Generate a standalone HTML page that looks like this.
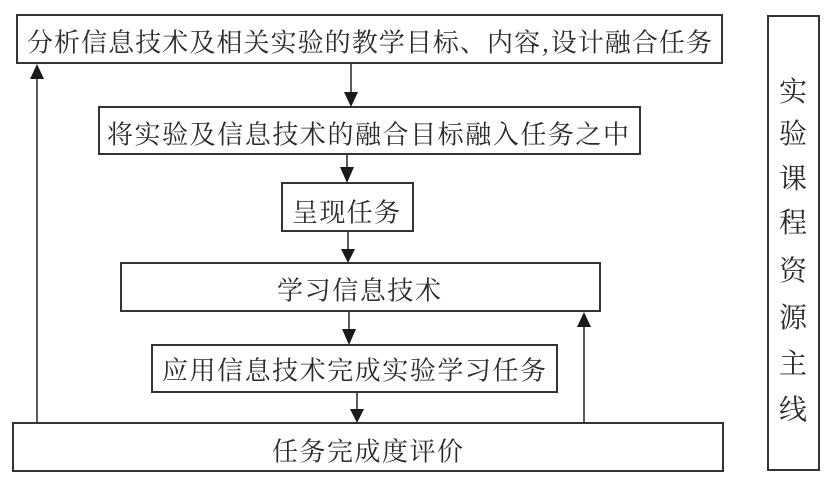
<!DOCTYPE html>
<html>
<head>
<meta charset="utf-8">
<style>
  html,body{margin:0;padding:0;background:#fff;}
  svg{display:block;}
  text{font-family:"Noto Serif CJK SC","Noto Sans CJK SC",serif;fill:#2b2b2b;font-size:26px;font-weight:400;}
  .v{font-size:28px;}
</style>
</head>
<body>
<svg width="829" height="484" viewBox="0 0 829 484" xmlns="http://www.w3.org/2000/svg">
  <rect width="829" height="484" fill="#fff"/>
  <g fill="none" stroke="#333" stroke-width="2">
    <rect x="17" y="15" width="705" height="48"/>
    <rect x="99" y="107" width="541" height="47"/>
    <rect x="282" y="183" width="131" height="48"/>
    <rect x="121" y="263" width="479" height="48"/>
    <rect x="152" y="345" width="405" height="47"/>
    <rect x="13" y="423" width="710" height="48"/>
    <rect x="768" y="16" width="51" height="454"/>
  </g>
  <g stroke="#333" stroke-width="1.6">
    <line x1="351" y1="63" x2="351" y2="95"/>
    <line x1="347" y1="154" x2="347" y2="170"/>
    <line x1="348" y1="231" x2="348" y2="251"/>
    <line x1="349" y1="311" x2="349" y2="332"/>
    <line x1="357" y1="392" x2="357" y2="412"/>
    <line x1="37" y1="423" x2="37" y2="76"/>
    <line x1="584" y1="423" x2="584" y2="325"/>
  </g>
  <g fill="#1a1a1a">
    <polygon points="344,92 358,92 351,107"/>
    <polygon points="340,167 354,167 347,183"/>
    <polygon points="341,249 355,249 348,263"/>
    <polygon points="342,329 356,329 349,345"/>
    <polygon points="350,409 364,409 357,423"/>
    <polygon points="30,79 44,79 37,64"/>
    <polygon points="577,327 591,327 584,312"/>
  </g>
  <text x="27" y="41" dominant-baseline="central" textLength="685" lengthAdjust="spacing">分析信息技术及相关实验的教学目标、内容,设计融合任务</text>
  <text x="107" y="133" dominant-baseline="central" textLength="522" lengthAdjust="spacing">将实验及信息技术的融合目标融入任务之中</text>
  <text x="292" y="211" dominant-baseline="central" textLength="108" lengthAdjust="spacing">呈现任务</text>
  <text x="277" y="289" dominant-baseline="central" textLength="164" lengthAdjust="spacing">学习信息技术</text>
  <text x="162" y="369" dominant-baseline="central" textLength="384" lengthAdjust="spacing">应用信息技术完成实验学习任务</text>
  <text x="272" y="450" dominant-baseline="central" textLength="191" lengthAdjust="spacing">任务完成度评价</text>
  <g text-anchor="middle">
    <text class="v" x="793" y="90" dominant-baseline="central">实</text>
    <text class="v" x="793" y="132" dominant-baseline="central">验</text>
    <text class="v" x="793" y="177" dominant-baseline="central">课</text>
    <text class="v" x="793" y="221" dominant-baseline="central">程</text>
    <text class="v" x="793" y="269" dominant-baseline="central">资</text>
    <text class="v" x="793" y="316" dominant-baseline="central">源</text>
    <text class="v" x="793" y="362" dominant-baseline="central">主</text>
    <text class="v" x="793" y="408" dominant-baseline="central">线</text>
  </g>
</svg>
</body>
</html>
